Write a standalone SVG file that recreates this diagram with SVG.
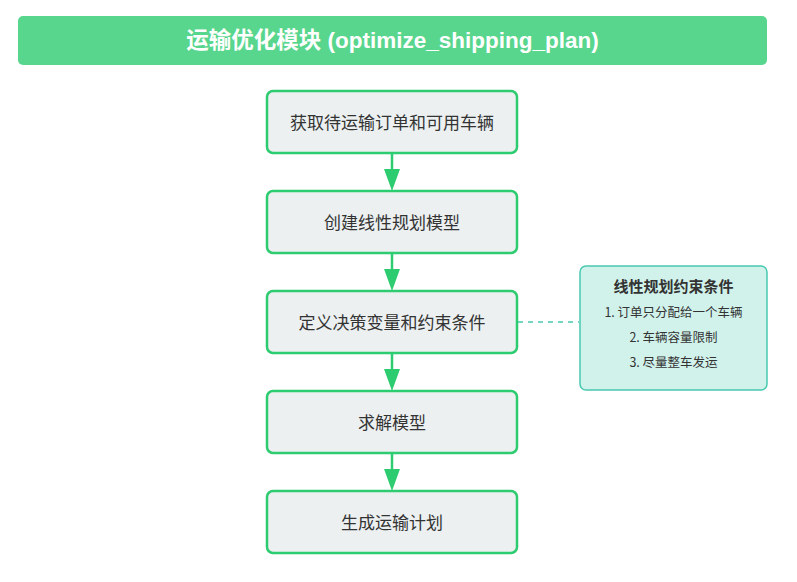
<svg xmlns="http://www.w3.org/2000/svg" width="797" height="582" viewBox="0 0 797 582">
<defs>
<style>
.node rect{fill:#ecf0f1;stroke:#2ecc71;stroke-width:2.5}
.node text{font-family:"Noto Sans CJK SC","Liberation Sans",sans-serif;font-size:17px;fill:#333333;text-anchor:middle;dominant-baseline:central}
.edge{stroke:#2ecc71;stroke-width:2.5;fill:none}
.head{fill:#2ecc71}
.note text{font-family:"Noto Sans CJK SC","Liberation Sans",sans-serif;fill:#333333;text-anchor:middle;dominant-baseline:central}
</style>
</defs>
<rect width="797" height="582" fill="#ffffff"/>
<g id="title">
<rect x="18" y="16" width="749" height="49" rx="5" fill="#58d68d"/>
<text x="392.5" y="40" font-family="Liberation Sans,Noto Sans CJK SC,sans-serif" font-size="22.5" font-weight="bold" fill="#ffffff" text-anchor="middle" dominant-baseline="central">运输优化模块 (optimize_shipping_plan)</text>
</g>
<g id="connectors">
<line class="edge" x1="392" y1="153" x2="392" y2="172"/>
<polygon class="head" points="384,169 400,169 392,191"/>
<line class="edge" x1="392" y1="253" x2="392" y2="272"/>
<polygon class="head" points="384,269 400,269 392,291"/>
<line class="edge" x1="392" y1="353" x2="392" y2="372"/>
<polygon class="head" points="384,369 400,369 392,391"/>
<line class="edge" x1="392" y1="453" x2="392" y2="472"/>
<polygon class="head" points="384,469 400,469 392,491"/>
<line x1="518" y1="322" x2="579" y2="322" stroke="#48c9b0" stroke-width="1.5" stroke-dasharray="5,5"/>
</g>
<g id="n1" class="node"><rect x="267" y="91" width="250" height="62" rx="6"/><text x="392" y="121">获取待运输订单和可用车辆</text></g>
<g id="n2" class="node"><rect x="267" y="191" width="250" height="62" rx="6"/><text x="392" y="221">创建线性规划模型</text></g>
<g id="n3" class="node"><rect x="267" y="291" width="250" height="62" rx="6"/><text x="392" y="321">定义决策变量和约束条件</text></g>
<g id="n4" class="node"><rect x="267" y="391" width="250" height="62" rx="6"/><text x="392" y="421">求解模型</text></g>
<g id="n5" class="node"><rect x="267" y="491" width="250" height="62" rx="6"/><text x="392" y="521">生成运输计划</text></g>
<g id="note" class="note">
<rect x="580" y="266" width="187" height="124" rx="6" fill="#d1f2eb" stroke="#48c9b0" stroke-width="1.5"/>
<text x="673.5" y="285" font-size="15" font-weight="bold">线性规划约束条件</text>
<text x="673.5" y="311" font-size="12.5">1. 订单只分配给一个车辆</text>
<text x="673.5" y="336" font-size="12.5">2. 车辆容量限制</text>
<text x="673.5" y="361" font-size="12.5">3. 尽量整车发运</text>
</g>
</svg>
